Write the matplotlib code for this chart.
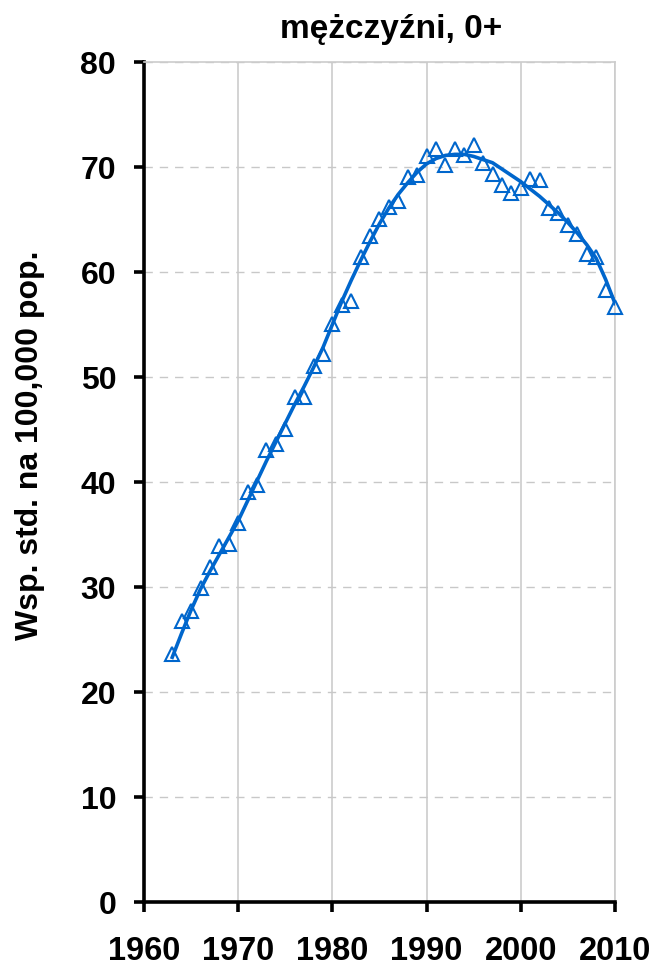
import matplotlib
matplotlib.use('Agg')
import matplotlib.pyplot as plt
import numpy as np

plt.rcParams['font.family'] = ['Liberation Sans', 'DejaVu Sans']

# dane: wsp. standaryzowany, mężczyźni 0+
years = list(range(1963, 2011))
rates = [23.6, 26.8, 27.7, 29.9, 31.9, 33.9, 34.1, 36.1, 39.0, 39.7,
         43.0, 43.6, 45.0, 48.1, 48.1, 51.0, 52.2, 55.0, 56.9, 57.2,
         61.4, 63.4, 65.0, 66.2, 66.8, 69.0, 69.2, 71.0, 71.7, 70.2,
         71.7, 71.1, 72.1, 70.4, 69.3, 68.3, 67.5, 68.0, 68.9, 68.8,
         66.1, 65.6, 64.5, 63.6, 61.7, 61.4, 58.3, 56.7]
# linia trendu
trend = [23.3, 25.6, 27.8, 29.8, 31.5, 33.1, 34.7, 36.3, 38.2, 40.1,
         42.0, 43.8, 45.6, 47.4, 49.1, 50.9, 52.8, 55.0, 57.2, 59.2,
         61.1, 62.9, 64.6, 66.1, 67.4, 68.5, 69.5, 70.3, 70.8, 71.1,
         71.2, 71.2, 71.0, 70.7, 70.4, 69.8, 69.2, 68.6, 67.9, 67.2,
         66.4, 65.6, 64.7, 63.7, 62.6, 61.3, 59.3, 57.0]

blue = '#0066cc'

fig = plt.figure(figsize=(6.56, 9.70), dpi=100)
ax = fig.add_axes([0.2195, 0.0691, 0.718, 0.866])

ax.plot(years, trend, color=blue, lw=2.6, zorder=3)
ax.plot(years, rates, ls='none', marker='^', ms=10, mfc='none', mec=blue,
        mew=1.5, zorder=4, clip_on=False)

ax.set_xlim(1960, 2010)
ax.set_ylim(0, 80)
ax.set_xticks(np.arange(1960, 2011, 10))
ax.set_yticks(np.arange(0, 81, 10))

ax.grid(axis='x', color='#cccccc', lw=1.2, ls='-')
ax.grid(axis='y', color='#c8c8c8', lw=1.0, ls=(0, (6, 5)))
ax.set_axisbelow(True)

for s in ['left', 'bottom']:
    ax.spines[s].set_linewidth(2.6)
    ax.spines[s].set_color('black')
for s in ['top', 'right']:
    ax.spines[s].set_linewidth(1.2)
    ax.spines[s].set_color('#cccccc')

ax.tick_params(axis='y', direction='out', length=7, width=2.6, pad=13,
               labelsize=23)
ax.tick_params(axis='x', direction='out', length=7, width=2.6, pad=17,
               labelsize=23.5)
for lab in ax.get_xticklabels() + ax.get_yticklabels():
    lab.set_fontweight('bold')

ax.set_ylabel('Wsp. std. na 100,000 pop.', fontsize=23, fontweight='bold')
ax.yaxis.set_label_coords(-0.21, 0.545)
ax.set_title('mężczyźni, 0+', fontsize=24, fontweight='bold', pad=18,
             x=0.524)

fig.savefig('out.png', dpi=100)
